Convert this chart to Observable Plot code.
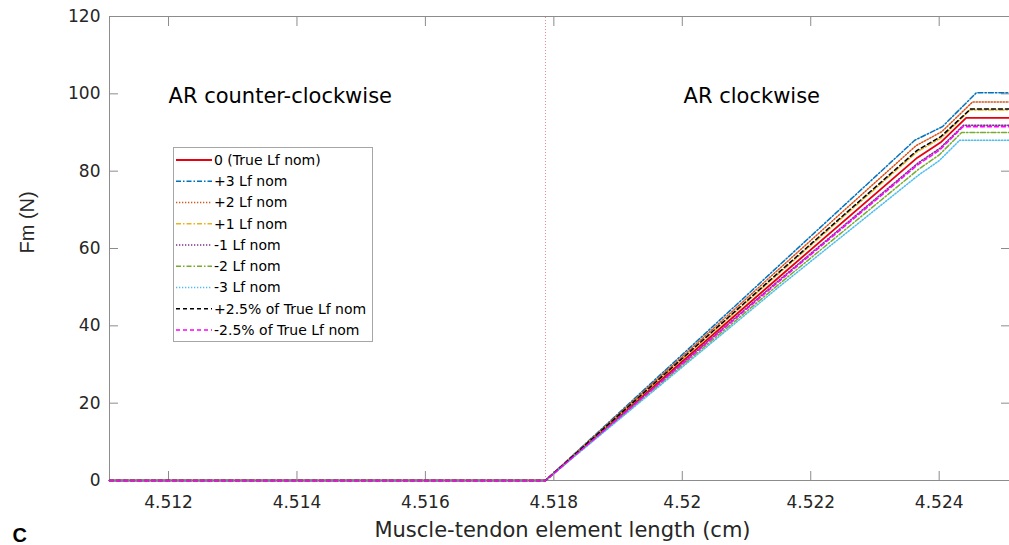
<!DOCTYPE html>
<html><head><meta charset="utf-8">
<script src="https://cdn.jsdelivr.net/npm/d3@7"></script>
<script src="https://cdn.jsdelivr.net/npm/@observablehq/plot@0.6"></script>
<style>
body{margin:0;background:#fff}
#wrap{position:relative;width:1009px;height:545px;overflow:hidden}
#legend{position:absolute;left:173px;top:147px}
</style>
</head><body><div id="wrap"></div>
<script>
// ---- data ----
const xTicks = [4.512, 4.514, 4.516, 4.518, 4.52, 4.522, 4.524];
const yTicks = [0, 20, 40, 60, 80, 100, 120];
const xDomain = [4.511081, 4.525095];
const yDomain = [0, 120];
const dividerX = [4.51787];
const regionLabels = ["AR counter-clockwise", "AR clockwise"];
const regionLabelX = [4.512, 4.52002];
const regionLabelY = [99.3, 99.3];
const legendLabels = ["0 (True Lf nom)", "+3 Lf nom", "+2 Lf nom", "+1 Lf nom", "-1 Lf nom", "-2 Lf nom", "-3 Lf nom", "+2.5% of True Lf nom", "-2.5% of True Lf nom"];

const x_true  = [4.511081, 4.51787, 4.5215, 4.52366, 4.52402, 4.52442, 4.525095];
const y_true  = [0, 0, 52.5, 83.5, 87.4, 93.8, 93.8];
const x_p3    = [4.511081, 4.51787, 4.5215, 4.52362, 4.52405, 4.52458, 4.525095];
const y_p3    = [0, 0, 55.5, 88.0, 91.5, 100.3, 100.3];
const x_p2    = [4.511081, 4.51787, 4.5215, 4.52364, 4.52404, 4.52452, 4.525095];
const y_p2    = [0, 0, 54.6, 86.6, 90.2, 97.9, 97.9];
const x_p1    = [4.511081, 4.51787, 4.5215, 4.52365, 4.52403, 4.52448, 4.525095];
const y_p1    = [0, 0, 53.5, 84.9, 88.6, 95.8, 95.8];
const x_m1    = [4.511081, 4.51787, 4.5215, 4.52367, 4.52401, 4.52438, 4.525095];
const y_m1    = [0, 0, 51.7, 82.1, 85.9, 91.9, 91.9];
const x_m2    = [4.511081, 4.51787, 4.5215, 4.52368, 4.52400, 4.52435, 4.525095];
const y_m2    = [0, 0, 50.7, 80.5, 84.2, 90.0, 90.0];
const x_m3    = [4.511081, 4.51787, 4.5215, 4.52368, 4.52400, 4.52432, 4.525095];
const y_m3    = [0, 0, 50.0, 79.0, 82.7, 88.0, 88.0];
const x_p25   = [4.511081, 4.51787, 4.5215, 4.52365, 4.52403, 4.52449, 4.525095];
const y_p25   = [0, 0, 53.8, 85.3, 89.0, 96.1, 96.1];
const x_m25   = [4.511081, 4.51787, 4.5215, 4.52367, 4.52401, 4.52437, 4.525095];
const y_m25   = [0, 0, 51.4, 81.7, 85.5, 91.5, 91.5];

// ---- styles ----
const styles = [
  {c: "#e8000f", w: 1.8, d: null},
  {c: "#0072BD", w: 1.5, d: "5,2,1.5,2"},
  {c: "#D95319", w: 1.5, d: "1.3,1.7"},
  {c: "#EDB120", w: 1.5, d: "5,2,1.5,2"},
  {c: "#7E2F8E", w: 1.5, d: "1.3,1.7"},
  {c: "#77AC30", w: 1.5, d: "5,2,1.5,2"},
  {c: "#4DBEEE", w: 1.5, d: "1.3,1.7"},
  {c: "#000000", w: 1.5, d: "4,3"},
  {c: "#FF00FF", w: 1.5, d: "4,3"}
];
const xs = [x_true, x_p3, x_p2, x_p1, x_m1, x_m2, x_m3, x_p25, x_m25];
const ys = [y_true, y_p3, y_p2, y_p1, y_m1, y_m2, y_m3, y_p25, y_m25];

const axisGray = "#8c8c8c";
const textCol = "#262626";

const lineMarks = xs.map((xa, k) => {
  const rows = xa.map((x, i) => ({x, y: ys[k][i]}));
  return Plot.line(rows, {x: "x", y: "y", stroke: styles[k].c, strokeWidth: styles[k].w, strokeDasharray: styles[k].d});
});

const chart = Plot.plot({
  width: 1009, height: 545,
  marginLeft: 109, marginRight: 0, marginTop: 16, marginBottom: 65,
  x: {domain: xDomain, label: null},
  y: {domain: yDomain, label: null},
  style: {fontFamily: "DejaVu Sans", background: "white", color: textCol},
  marks: [
    Plot.frame({stroke: axisGray}),
    Plot.axisX({ticks: xTicks, tickSize: -9, tickFormat: () => "", stroke: axisGray}),
    Plot.axisX({anchor: "top", ticks: xTicks, tickSize: -9, tickFormat: () => "", stroke: axisGray}),
    Plot.axisX({ticks: xTicks, tickSize: 0, tickPadding: 15, fontSize: 17, fill: textCol, tickFormat: d => String(d)}),
    Plot.axisY({ticks: yTicks, tickSize: -9, tickFormat: () => "", stroke: axisGray}),
    Plot.axisY({anchor: "right", ticks: yTicks, tickSize: -9, tickFormat: () => "", stroke: axisGray}),
    Plot.axisY({ticks: yTicks, tickSize: 0, tickPadding: 9, fontSize: 17, fill: textCol, tickFormat: d => String(d)}),
    Plot.ruleX(dividerX, {y1: yDomain[0], y2: yDomain[1], stroke: "#ef8796", strokeWidth: 1, strokeDasharray: "1,2"}),
    ...lineMarks,
    Plot.text(regionLabels, {x: (d, i) => regionLabelX[i], y: (d, i) => regionLabelY[i], text: d => d, textAnchor: "start", fontSize: 21, fill: "#000"}),
    Plot.text(["Muscle-tendon element length (cm)"], {frameAnchor: "bottom", dx: 3, dy: 56, fontSize: 21, fill: textCol}),
    Plot.text(["Fm (N)"], {frameAnchor: "left", dx: -82, dy: 5, rotate: -90, fontSize: 20, fontFamily: "Liberation Sans", fill: textCol}),
    Plot.text(["C"], {frameAnchor: "bottom-left", dx: -97, dy: 61, fontSize: 20, fontWeight: "bold", fontFamily: "Liberation Sans", fill: "#000"})
  ]
});
const wrap = document.getElementById("wrap");
wrap.appendChild(chart);

// legend overlay
const rowH = 21.25;
const lg = d3.select(wrap).append("svg").attr("id", "legend")
  .attr("width", 200).attr("height", 195);
lg.append("rect").attr("x", 0.5).attr("y", 0.5).attr("width", 199).attr("height", 194)
  .attr("fill", "#fff").attr("stroke", "#a6a6a6");
legendLabels.forEach((lab, i) => {
  const cy = 13 + rowH * i;
  lg.append("line").attr("x1", 3).attr("x2", 39).attr("y1", cy).attr("y2", cy)
    .attr("stroke", styles[i].c).attr("stroke-width", styles[i].w)
    .attr("stroke-dasharray", styles[i].d);
  lg.append("text").attr("x", 41).attr("y", cy).attr("dy", "0.35em")
    .attr("font-family", "DejaVu Sans").attr("font-size", 14).attr("fill", "#000").text(lab);
});
</script>
</body></html>
